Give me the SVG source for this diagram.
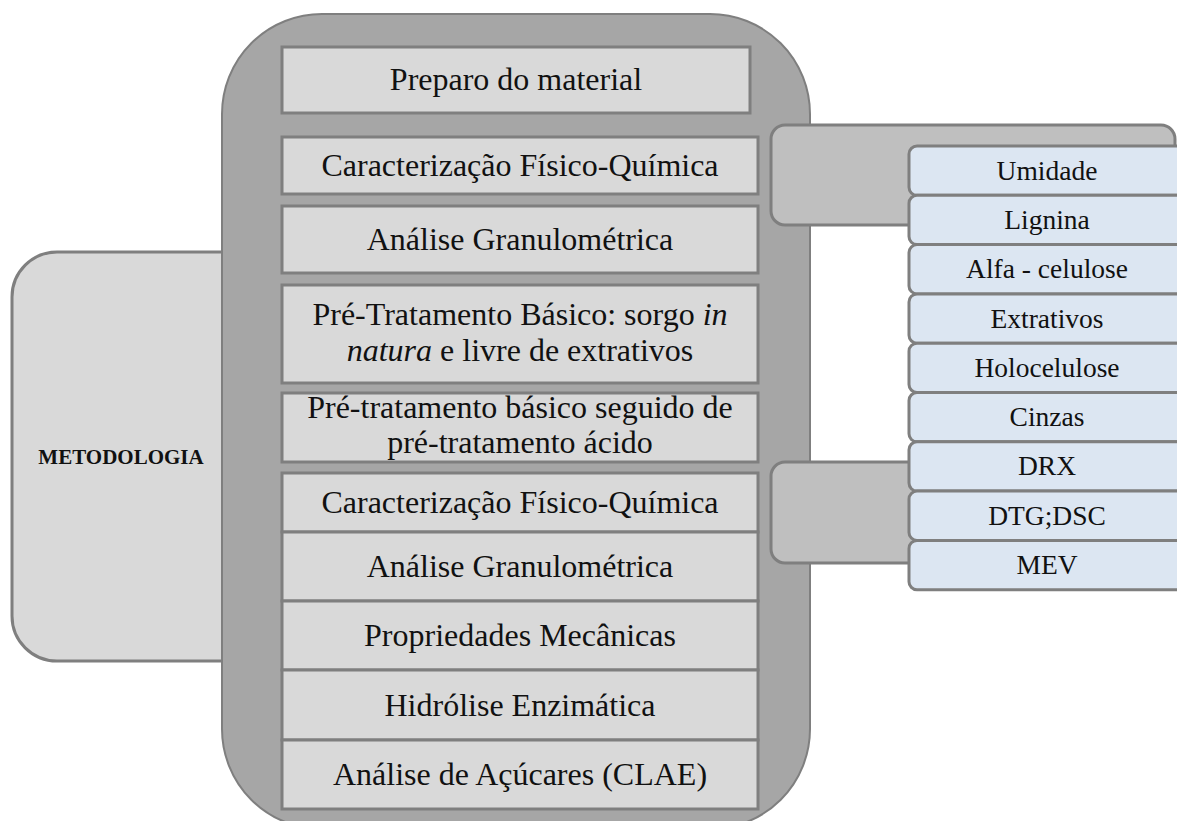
<svg xmlns="http://www.w3.org/2000/svg" width="1177" height="821" viewBox="0 0 1177 821">
<style>
.t{font-family:"Liberation Serif","Times New Roman",serif;font-size:32px;fill:#111;text-anchor:middle}
.s{font-family:"Liberation Serif","Times New Roman",serif;font-size:27.5px;fill:#111;text-anchor:middle}
.box{fill:#d9d9d9;stroke:#7f7f7f;stroke-width:3}
.blue{fill:#dce6f2;stroke:#7f7f7f;stroke-width:3}
.con{fill:#bfbfbf;stroke:#7f7f7f;stroke-width:3}
</style>
<rect width="1177" height="821" fill="#fff"/>
<g id="metodologia">
<rect x="12" y="252" width="260" height="409" rx="45" class="box"/>
<text x="121" y="464" style="font-family:'Liberation Serif','Times New Roman',serif;font-size:21px;font-weight:bold;fill:#111;text-anchor:middle">METODOLOGIA</text>
</g>
<g id="container">
<rect x="222" y="14" width="588" height="815" rx="100" fill="#a6a6a6" stroke="#7f7f7f" stroke-width="2"/>
</g>
<g id="n1"><rect x="282" y="47" width="468" height="66" class="box"/><text class="t" x="516" y="90">Preparo do material</text></g>
<g id="n2"><rect x="282" y="137" width="476" height="57" class="box"/><text class="t" x="520" y="176">Caracterização Físico-Química</text></g>
<g id="n3"><rect x="282" y="206" width="476" height="67" class="box"/><text class="t" x="520" y="250">Análise Granulométrica</text></g>
<g id="n4"><rect x="282" y="285" width="476" height="98" class="box"/><text class="t" x="520" y="325">Pré-Tratamento Básico: sorgo <tspan font-style="italic">in</tspan></text><text class="t" x="520" y="361"><tspan font-style="italic">natura</tspan> e livre de extrativos</text></g>
<g id="n5"><rect x="282" y="393" width="476" height="69" class="box"/><text class="t" x="520" y="418">Pré-tratamento básico seguido de</text><text class="t" x="520" y="453">pré-tratamento ácido</text></g>
<g id="n6"><rect x="282" y="473" width="476" height="59" class="box"/><text class="t" x="520" y="513">Caracterização Físico-Química</text></g>
<g id="n7"><rect x="282" y="532" width="476" height="69" class="box"/><text class="t" x="520" y="577">Análise Granulométrica</text></g>
<g id="n8"><rect x="282" y="601" width="476" height="69" class="box"/><text class="t" x="520" y="646">Propriedades Mecânicas</text></g>
<g id="n9"><rect x="282" y="670" width="476" height="70" class="box"/><text class="t" x="520" y="716">Hidrólise Enzimática</text></g>
<g id="n10"><rect x="282" y="740" width="476" height="69" class="box"/><text class="t" x="520" y="785">Análise de Açúcares (CLAE)</text></g>
<g id="connectors">
<rect x="771" y="125" width="404" height="100" rx="14" class="con"/>
<rect x="771" y="462" width="160" height="101" rx="14" class="con"/>
</g>
<g id="b1"><rect x="909" y="146" width="280" height="49.3" rx="8" class="blue"/><text class="s" x="1047" y="180">Umidade</text></g>
<g id="b2"><rect x="909" y="195.3" width="280" height="49.3" rx="8" class="blue"/><text class="s" x="1047" y="229">Lignina</text></g>
<g id="b3"><rect x="909" y="244.6" width="280" height="49.3" rx="8" class="blue"/><text class="s" x="1047" y="278">Alfa - celulose</text></g>
<g id="b4"><rect x="909" y="293.9" width="280" height="49.3" rx="8" class="blue"/><text class="s" x="1047" y="328">Extrativos</text></g>
<g id="b5"><rect x="909" y="343.2" width="280" height="49.3" rx="8" class="blue"/><text class="s" x="1047" y="377">Holocelulose</text></g>
<g id="b6"><rect x="909" y="392.5" width="280" height="49.3" rx="8" class="blue"/><text class="s" x="1047" y="426">Cinzas</text></g>
<g id="b7"><rect x="909" y="441.8" width="280" height="49.3" rx="8" class="blue"/><text class="s" x="1047" y="475">DRX</text></g>
<g id="b8"><rect x="909" y="491.1" width="280" height="49.3" rx="8" class="blue"/><text class="s" x="1047" y="525">DTG;DSC</text></g>
<g id="b9"><rect x="909" y="540.4" width="280" height="49.3" rx="8" class="blue"/><text class="s" x="1047" y="574">MEV</text></g>
</svg>
